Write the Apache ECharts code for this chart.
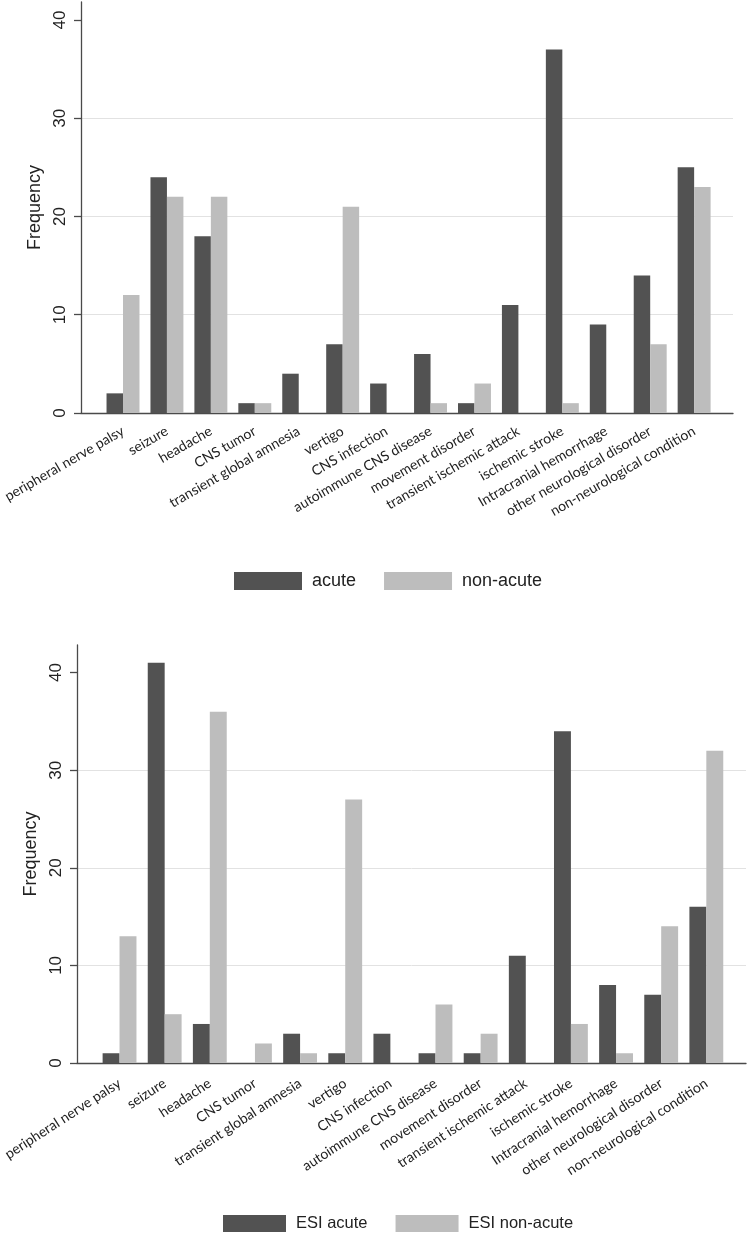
<!DOCTYPE html>
<html>
<head>
<meta charset="utf-8">
<script src="https://cdn.jsdelivr.net/npm/echarts@6/dist/echarts.min.js"></script>
<style>
html,body{margin:0;padding:0;background:#fff;}
#chart{width:750px;height:1235px;}
</style>
</head>
<body>
<div id="chart"></div>
<script>
// ---- data ----
const categories = [
  'peripheral nerve palsy', 'seizure', 'headache', 'CNS tumor',
  'transient global amnesia', 'vertigo', 'CNS infection',
  'autoimmune CNS disease', 'movement disorder', 'transient ischemic attack',
  'ischemic stroke', 'Intracranial hemorrhage', 'other neurological disorder',
  'non-neurological condition'
];
const acute    = [2, 24, 18, 1, 4, 7, 3, 6, 1, 11, 37, 9, 14, 25];
const nonAcute = [12, 22, 22, 1, 0, 21, 0, 1, 3, 0, 1, 0, 7, 23];
const esiAcute    = [1, 41, 4, 0, 3, 1, 3, 1, 1, 11, 34, 8, 7, 16];
const esiNonAcute = [13, 5, 36, 2, 1, 27, 0, 6, 3, 0, 4, 1, 14, 32];
const yTicks = [0, 10, 20, 30, 40];
const seriesNamesTop = ['acute', 'non-acute'];
const seriesNamesBottom = ['ESI acute', 'ESI non-acute'];

// ---- styles ----
const DARK = '#525252';
const LIGHT = '#bdbdbd';
const AXIS = '#4a4a4a';
const GRIDC = '#e2e2e2';
const TXT = '#222222';

const chart = echarts.init(document.getElementById('chart'), null, {renderer: 'canvas'});

function axisY(gridIndex, max, nameGap) {
  return {
    gridIndex: gridIndex, type: 'value', min: 0, max: max,
    name: 'Frequency', nameLocation: 'middle', nameGap: nameGap,
    nameTextStyle: {fontFamily: 'Liberation Sans', fontSize: 18, color: TXT},
    axisLine: {show: true, lineStyle: {color: AXIS, width: 1.3}},
    axisTick: {show: true, length: 7, customValues: yTicks, lineStyle: {color: AXIS, width: 1.3}},
    axisLabel: {show: true, customValues: yTicks, rotate: 90, margin: 12,
      fontFamily: 'Liberation Sans', fontSize: 17, color: TXT},
    splitLine: {show: true, showMinLine: false, showMaxLine: false, lineStyle: {color: GRIDC, width: 1}}
  };
}
function axisYHidden(gridIndex, max) {
  return {gridIndex: gridIndex, type: 'value', min: 0, max: max, show: false};
}
function axisXLine(gridIndex) {
  return {
    gridIndex: gridIndex, type: 'value', min: 0, max: 1,
    axisLine: {show: true, onZero: false, lineStyle: {color: AXIS, width: 1.3}},
    axisTick: {show: false}, axisLabel: {show: false}, splitLine: {show: false}
  };
}
function axisXCat(gridIndex, rotate, margin) {
  return {
    gridIndex: gridIndex, type: 'category', data: categories,
    axisLine: {show: false}, axisTick: {show: false},
    axisLabel: {interval: 0, rotate: rotate, margin: margin,
      fontFamily: 'Lato', fontSize: 14, color: TXT}
  };
}
function bar(name, data, xi, yi, color) {
  return {
    type: 'bar', name: name, data: data, xAxisIndex: xi, yAxisIndex: yi,
    barGap: '0%', barCategoryGap: '25%', itemStyle: {color: color},
    emphasis: {disabled: true}
  };
}

const TOP_MAX = 41.83;
const BOT_MAX = 42.83;

const option = {
  animation: false,
  backgroundColor: '#ffffff',
  grid: [
    {left: 81, top: 2, width: 652, height: 411},
    {left: 97.4, top: 2, width: 618.7, height: 411},
    {left: 77, top: 645, width: 669, height: 418},
    {left: 93.3, top: 645, width: 635.6, height: 418}
  ],
  xAxis: [axisXLine(0), axisXCat(1, 30, 17), axisXLine(2), axisXCat(3, 33, 19)],
  yAxis: [axisY(0, TOP_MAX, 35), axisYHidden(1, TOP_MAX), axisY(2, BOT_MAX, 37), axisYHidden(3, BOT_MAX)],
  legend: [
    {data: seriesNamesTop, left: 234, top: 572, padding: 0, itemWidth: 68, itemHeight: 18, itemGap: 28,
      icon: 'rect', selectedMode: false,
      textStyle: {fontFamily: 'Liberation Sans', fontSize: 18, color: TXT, padding: [0, 0, 0, 5]}},
    {data: seriesNamesBottom, left: 223, top: 1215, padding: 0, itemWidth: 63, itemHeight: 17, itemGap: 28,
      icon: 'rect', selectedMode: false,
      textStyle: {fontFamily: 'Liberation Sans', fontSize: 16.5, color: TXT, padding: [0, 0, 0, 5]}}
  ],
  series: [
    bar(seriesNamesTop[0], acute, 1, 1, DARK),
    bar(seriesNamesTop[1], nonAcute, 1, 1, LIGHT),
    bar(seriesNamesBottom[0], esiAcute, 3, 3, DARK),
    bar(seriesNamesBottom[1], esiNonAcute, 3, 3, LIGHT)
  ]
};
chart.setOption(option);
</script>
</body>
</html>
